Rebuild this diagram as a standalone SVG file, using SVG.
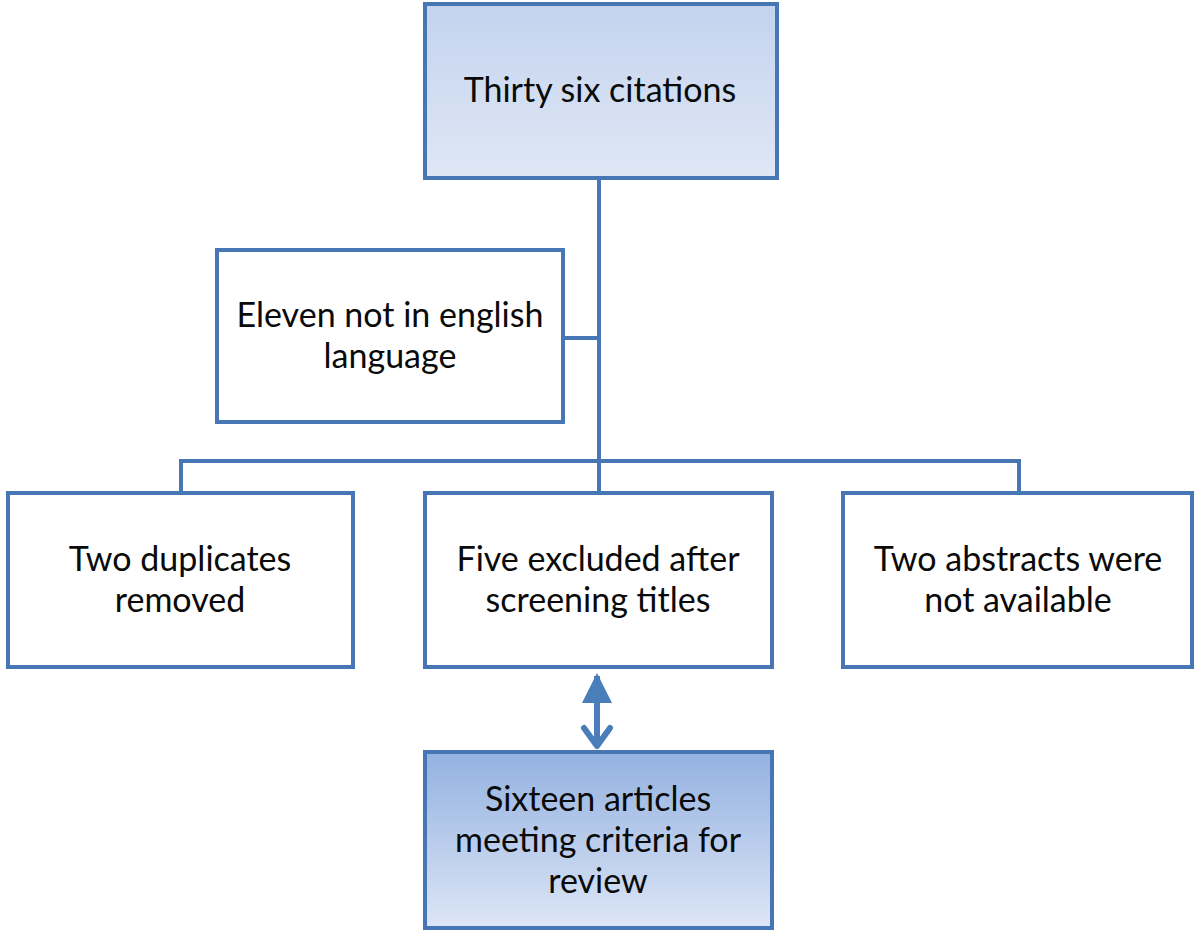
<svg xmlns="http://www.w3.org/2000/svg" width="1200" height="940" viewBox="0 0 1200 940">
<defs>
<linearGradient id="gTop" x1="0" y1="0" x2="0" y2="1">
<stop offset="0" stop-color="#c3d3ee"/>
<stop offset="1" stop-color="#dfe7f5"/>
</linearGradient>
<linearGradient id="gBot" x1="0" y1="0" x2="0" y2="1">
<stop offset="0" stop-color="#93b1e0"/>
<stop offset="1" stop-color="#dde6f6"/>
</linearGradient>
<marker id="ah" viewBox="0 0 10 10" refX="9" refY="5" markerWidth="5" markerHeight="5" orient="auto-start-reverse" markerUnits="strokeWidth">
<path d="M0,0 L10,5 L0,10 z" fill="#4a7ebb"/>
</marker>
</defs>
<style>
.box{stroke:#4676b3;stroke-width:4;}
.w{fill:#ffffff;}
.t{font-family:Lato,"Open Sans","Liberation Sans",sans-serif;font-size:34px;fill:#0a0a0a;text-anchor:middle;}
.c{fill:none;stroke:#4676b3;stroke-width:4;}
</style>
<rect width="1200" height="940" fill="#ffffff"/>
<g id="connectors">
<path class="c" d="M599,178 V493"/>
<path class="c" d="M563,338 H599"/>
<path class="c" d="M181,493 V461 H1019 V493"/>
<line x1="597" y1="745" x2="597" y2="676" stroke="#4a7ebb" stroke-width="6" marker-end="url(#ah)"/>
<path d="M584,728 L597,746 L610,728" fill="none" stroke="#4a7ebb" stroke-width="6" stroke-linecap="round" stroke-linejoin="round"/>
</g>
<g id="n1">
<rect class="box" x="425" y="4" width="352" height="174" fill="url(#gTop)"/>
<text class="t" x="600" y="102">Thirty six citations</text>
</g>
<g id="n2">
<rect class="box w" x="217" y="250" width="346" height="172"/>
<text class="t" x="390" y="327">Eleven not in english</text>
<text class="t" x="390" y="368">language</text>
</g>
<g id="n3">
<rect class="box w" x="8" y="493" width="345" height="174"/>
<text class="t" x="180" y="571">Two duplicates</text>
<text class="t" x="180" y="612">removed</text>
</g>
<g id="n4">
<rect class="box w" x="425" y="493" width="347" height="174"/>
<text class="t" x="598" y="571">Five excluded after</text>
<text class="t" x="598" y="612">screening titles</text>
</g>
<g id="n5">
<rect class="box w" x="843" y="493" width="349" height="174"/>
<text class="t" x="1018" y="571">Two abstracts were</text>
<text class="t" x="1018" y="612">not available</text>
</g>
<g id="n6">
<rect class="box" x="425" y="752" width="347" height="176" fill="url(#gBot)"/>
<text class="t" x="598" y="811">Sixteen articles</text>
<text class="t" x="598" y="852">meeting criteria for</text>
<text class="t" x="598" y="893">review</text>
</g>
</svg>
